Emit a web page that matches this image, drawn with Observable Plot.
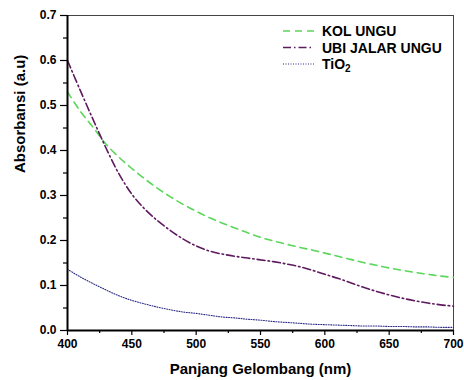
<!DOCTYPE html>
<html>
<head>
<meta charset="utf-8">
<script src="https://cdn.jsdelivr.net/npm/d3@7"></script>
<script src="https://cdn.jsdelivr.net/npm/@observablehq/plot@0.6"></script>
<style>
  body { margin: 0; background: #fff; }
  #wrap { position: relative; width: 464px; height: 380px; font-family: "Liberation Sans", Arial, sans-serif; }
  #legend { position: absolute; left: 282px; top: 22px; }
</style>
</head>
<body>
<div id="wrap"></div>
<script>
// Wavelength (nm)
const wavelength = [400,410,420,430,440,450,460,470,480,490,500,510,520,530,540,550,560,570,580,590,600,610,620,630,640,650,660,670,680,690,700];
// Series values (absorbance, a.u)
const kolUngu = [0.530,0.487,0.451,0.414,0.385,0.360,0.337,0.316,0.297,0.280,0.265,0.251,0.239,0.228,0.217,0.207,0.199,0.192,0.185,0.179,0.172,0.165,0.158,0.151,0.145,0.139,0.134,0.129,0.125,0.121,0.118];
const ubiJalarUngu = [0.600,0.533,0.468,0.405,0.348,0.303,0.270,0.244,0.222,0.203,0.188,0.177,0.170,0.165,0.161,0.157,0.153,0.148,0.142,0.134,0.125,0.116,0.106,0.096,0.087,0.079,0.072,0.066,0.061,0.057,0.054];
const tio2 = [0.136,0.119,0.104,0.090,0.077,0.067,0.059,0.052,0.046,0.041,0.038,0.034,0.030,0.028,0.025,0.023,0.020,0.018,0.016,0.014,0.013,0.012,0.011,0.010,0.010,0.009,0.009,0.008,0.008,0.007,0.007];
const seriesNames = ["KOL UNGU", "UBI JALAR UNGU", "TiO2"];
// Ticks
const xTicks = [400,450,500,550,600,650,700];
const xMinor = [425,475,525,575,625,675];
const yTicks = [0,0.1,0.2,0.3,0.4,0.5,0.6,0.7];
const yMinor = [0.05,0.15,0.25,0.35,0.45,0.55,0.65];
const xLabel = "Panjang Gelombang (nm)";
const yLabel = "Absorbansi (a.u)";

const styles = [
  {color: "#5ad65a", dash: "7,5", width: 1.6},
  {color: "#5e1a5e", dash: "8,3,1.5,3", width: 1.6},
  {color: "#2b2b85", dash: "1,1.5", width: 1.1}
];
const seriesVals = [kolUngu, ubiJalarUngu, tio2];
const rows = [];
seriesVals.forEach((vals, s) => vals.forEach((v, i) => rows.push({series: seriesNames[s], x: wavelength[i], y: v})));

const lines = seriesNames.map((name, s) => Plot.line(rows.filter(d => d.series === name), {
  x: "x", y: "y", stroke: styles[s].color, strokeWidth: styles[s].width,
  strokeDasharray: styles[s].dash, curve: "catmull-rom"
}));

const chart = Plot.plot({
  width: 464, height: 380,
  marginLeft: 67, marginRight: 11, marginTop: 15, marginBottom: 50,
  style: {fontFamily: "Liberation Sans, Arial, sans-serif", fontSize: "12px", fontWeight: "bold", color: "#000", background: "#fff"},
  x: {domain: [400, 700]},
  y: {domain: [0, 0.7]},
  marks: [
    Plot.frame({stroke: "#444", strokeWidth: 1}),
    ...lines,
    Plot.axisX(xTicks, {tickSize: 5, tickPadding: 4, tickFormat: d => String(d), label: null, stroke: "#000", strokeWidth: 1.2, fontWeight: "bold"}),
    Plot.axisX(xMinor, {tickSize: 3, tickFormat: () => "", label: null, stroke: "#000", strokeWidth: 1.2}),
    Plot.axisY(yTicks, {tickSize: 7, tickPadding: 4, tickFormat: d => d.toFixed(1), label: null, stroke: "#000", strokeWidth: 1.2, fontWeight: "bold"}),
    Plot.axisY(yMinor, {tickSize: 4, tickFormat: () => "", label: null, stroke: "#000", strokeWidth: 1.2}),
    Plot.ruleY([0], {stroke: "#000", strokeWidth: 2}),
    Plot.ruleX([400], {stroke: "#000", strokeWidth: 2}),
    Plot.text([xLabel], {frameAnchor: "bottom", dy: 43, fontSize: 15, fontWeight: "bold", fill: "#000"}),
    Plot.text([yLabel], {frameAnchor: "left", dx: -47, rotate: -90, fontSize: 15, fontWeight: "bold", fill: "#000"})
  ]
});
document.getElementById("wrap").appendChild(chart);

// Legend overlay
const leg = d3.select("#wrap").append("svg").attr("id", "legend").attr("width", 180).attr("height", 60)
  .style("font-family", "Liberation Sans, Arial, sans-serif").style("font-weight", "bold").style("font-size", "14px");
seriesNames.forEach((name, i) => {
  const g = leg.append("g").attr("transform", `translate(0,${i * 16.5})`);
  g.append("line").attr("x1", 1).attr("x2", 32).attr("y1", 9).attr("y2", 9)
    .attr("stroke", styles[i].color).attr("stroke-width", styles[i].width).attr("stroke-dasharray", styles[i].dash);
  const t = g.append("text").attr("x", 40).attr("y", 14).attr("fill", "#000");
  if (name === "TiO2") {
    t.append("tspan").text("TiO");
    t.append("tspan").attr("font-size", "10px").attr("dy", 3).text("2");
  } else t.text(name);
});
</script>
</body>
</html>
